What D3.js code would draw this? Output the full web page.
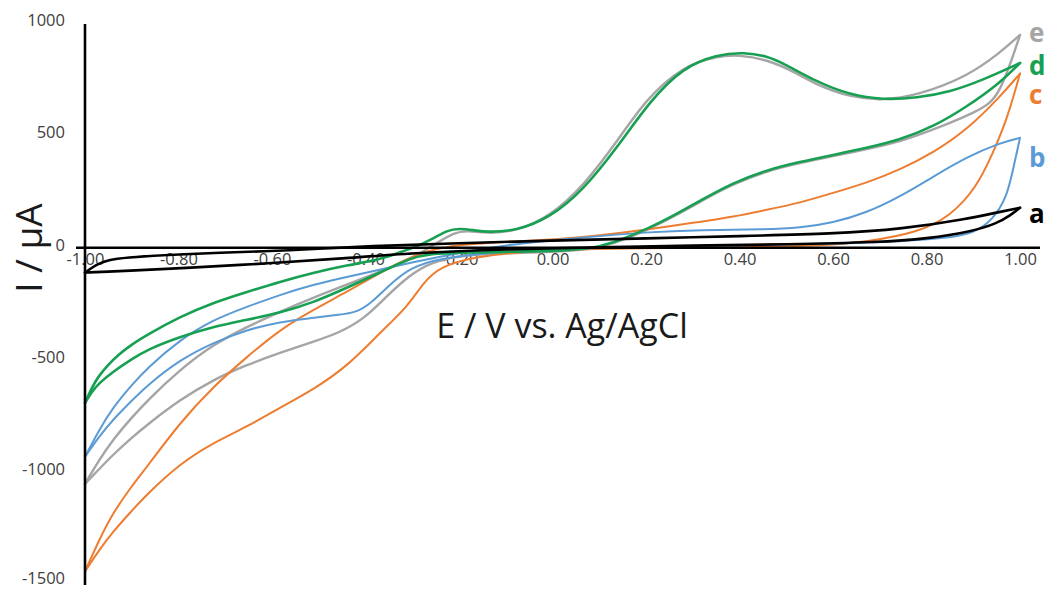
<!DOCTYPE html>
<html>
<head>
<meta charset="utf-8">
<script src="https://cdn.jsdelivr.net/npm/d3@7"></script>
<style>
  html, body { margin: 0; padding: 0; background: #ffffff; }
  svg { display: block; }
  text { font-family: "Open Sans", "Liberation Sans", sans-serif; }
</style>
</head>
<body>
<svg id="chart" width="1050" height="590"></svg>
<script>
// Cyclic voltammograms a–e: each scan is a closed loop made of two branches,
// given as [E (V vs. Ag/AgCl), I (µA)] pairs.

const xTicks = [-1.0, -0.8, -0.6, -0.4, -0.2, 0.0, 0.2, 0.4, 0.6, 0.8, 1.0];
const yTicks = [1000, 500, 0, -500, -1000, -1500];
const curveNames = ["a", "b", "c", "d", "e"];

const aUpper = [[-1.00,-110],[-0.985,-88],[-0.97,-70],[-0.95,-55],[-0.92,-44],[-0.80,-28],[-0.60,-15],[-0.50,-4],[-0.40,7],[-0.20,21],[0.00,32],[0.20,42],[0.40,52],[0.60,62],[0.75,84],[0.886,128],[0.957,160],[1.00,178]];
const aLower = [[-1.00,-110],[-0.95,-106],[-0.90,-101],[-0.80,-92],[-0.60,-68],[-0.45,-48],[-0.30,-23],[-0.10,-6],[0.10,3],[0.30,10],[0.50,15],[0.70,25],[0.80,40],[0.90,74],[0.95,108],[0.98,145],[1.00,178]];

const bUpper = [[-1.00,-930],[-0.97,-810],[-0.94,-710],[-0.90,-610],[-0.867,-535],[-0.797,-409],[-0.726,-320],[-0.653,-262],[-0.583,-209],[-0.512,-164],[-0.44,-129],[-0.369,-98],[-0.305,-67],[-0.20,-22],[-0.08,18],[0.06,45],[0.20,70],[0.316,80],[0.459,81],[0.529,89],[0.60,111],[0.672,156],[0.743,227],[0.814,316],[0.886,404],[0.957,467],[1.00,489]];
const bLower = [[-1.00,-930],[-0.97,-840],[-0.94,-764],[-0.90,-680],[-0.867,-612],[-0.797,-498],[-0.726,-422],[-0.653,-364],[-0.583,-329],[-0.512,-311],[-0.455,-298],[-0.42,-287],[-0.39,-250],[-0.348,-164],[-0.305,-89],[-0.24,-44],[-0.11,-18],[0.02,-4],[0.30,8],[0.60,18],[0.75,28],[0.85,45],[0.90,64],[0.942,124],[0.972,227],[0.985,347],[1.00,489]];

const cUpper = [[-1.00,-1440],[-0.97,-1300],[-0.94,-1178],[-0.90,-1060],[-0.867,-973],[-0.797,-778],[-0.726,-618],[-0.653,-484],[-0.583,-364],[-0.512,-276],[-0.44,-196],[-0.369,-111],[-0.305,-40],[-0.226,13],[-0.084,27],[0.059,44],[0.202,80],[0.316,116],[0.386,138],[0.459,169],[0.529,200],[0.60,244],[0.672,289],[0.743,347],[0.814,422],[0.886,524],[0.957,671],[1.00,775]];
const cLower = [[-1.00,-1440],[-0.97,-1345],[-0.94,-1262],[-0.90,-1170],[-0.867,-1095],[-0.797,-960],[-0.726,-867],[-0.653,-796],[-0.583,-711],[-0.512,-631],[-0.44,-529],[-0.369,-378],[-0.31,-262],[-0.277,-156],[-0.24,-84],[-0.17,-40],[-0.03,-9],[0.20,-2],[0.40,2],[0.60,12],[0.672,27],[0.78,67],[0.85,138],[0.908,271],[0.942,422],[0.972,569],[1.00,775]];

const dUpper = [[-1.00,-690],[-0.985,-620],[-0.97,-568],[-0.95,-520],[-0.93,-478],[-0.90,-430],[-0.867,-387],[-0.797,-307],[-0.726,-244],[-0.653,-196],[-0.583,-151],[-0.512,-111],[-0.44,-78],[-0.369,-52],[-0.333,-25],[-0.29,6],[-0.256,40],[-0.225,78],[-0.20,86],[-0.17,79],[-0.14,69],[-0.076,76],[-0.005,135],[0.065,255],[0.138,445],[0.209,655],[0.279,802],[0.352,860],[0.41,870],[0.46,852],[0.493,822],[0.565,738],[0.636,680],[0.707,658],[0.78,667],[0.85,693],[0.921,747],[1.00,822]];
const dLower = [[-1.00,-690],[-0.985,-640],[-0.97,-602],[-0.94,-551],[-0.90,-495],[-0.867,-453],[-0.797,-396],[-0.726,-351],[-0.653,-320],[-0.583,-289],[-0.512,-244],[-0.44,-178],[-0.369,-111],[-0.305,-45],[-0.26,-26],[-0.20,-21],[-0.10,-18],[0.00,-15],[0.08,-5],[0.13,22],[0.20,80],[0.27,155],[0.316,210],[0.386,289],[0.459,347],[0.529,382],[0.60,413],[0.672,444],[0.743,480],[0.814,538],[0.886,627],[0.957,733],[1.00,822]];

const eUpper = [[-1.00,-1050],[-0.97,-945],[-0.94,-853],[-0.90,-755],[-0.867,-680],[-0.797,-542],[-0.726,-431],[-0.653,-351],[-0.583,-284],[-0.512,-222],[-0.44,-164],[-0.369,-107],[-0.305,-53],[-0.25,18],[-0.21,70],[-0.18,76],[-0.14,64],[-0.08,72],[-0.005,140],[0.065,272],[0.138,472],[0.20,662],[0.279,808],[0.352,853],[0.40,858],[0.46,837],[0.52,780],[0.565,725],[0.636,670],[0.707,655],[0.78,678],[0.886,760],[0.957,867],[1.00,947]];
const eLower = [[-1.00,-1050],[-0.97,-985],[-0.94,-920],[-0.90,-845],[-0.867,-787],[-0.797,-676],[-0.726,-587],[-0.653,-520],[-0.583,-467],[-0.512,-418],[-0.455,-378],[-0.40,-311],[-0.358,-222],[-0.305,-120],[-0.26,-65],[-0.20,-34],[-0.10,-24],[0.00,-19],[0.08,-8],[0.13,18],[0.20,76],[0.27,150],[0.316,205],[0.386,284],[0.459,342],[0.529,377],[0.60,408],[0.672,438],[0.743,472],[0.80,515],[0.85,555],[0.90,600],[0.936,640],[0.957,700],[0.979,815],[1.00,947]];

const scans = [
  { name: "e", color: "#a5a5a5", width: 2.4, branches: [eUpper, eLower], labelY: 42 },
  { name: "c", color: "#ed7d31", width: 2.0, branches: [cUpper, cLower], labelY: 104 },
  { name: "b", color: "#5b9bd5", width: 2.0, branches: [bUpper, bLower], labelY: 167 },
  { name: "d", color: "#17a052", width: 2.6, branches: [dUpper, dLower], labelY: 75 },
  { name: "a", color: "#000000", width: 2.6, branches: [aUpper, aLower], labelY: 223 }
];

const svg = d3.select("#chart");

const x = d3.scaleLinear().domain([-1, 1]).range([85, 1020]);
const y = d3.scaleLinear().domain([-1500, 1000]).range([585, 23]);

// x tick labels, sitting just under the zero line
const xAxis = d3.axisBottom(x)
  .tickValues(xTicks)
  .tickSize(0)
  .tickPadding(0)
  .tickFormat(d => d.toFixed(2));
const gx = svg.append("g")
  .attr("transform", `translate(0,${y(0) + 17})`)
  .call(xAxis);
gx.select(".domain").remove();
gx.selectAll("text")
  .attr("dy", 0)
  .attr("fill", "#404040")
  .style("font-size", "16.5px")
  .style("font-family", "'Open Sans', sans-serif");

// y tick labels, right-aligned left of the vertical axis
const yAxis = d3.axisLeft(y)
  .tickValues(yTicks)
  .tickSize(0)
  .tickPadding(0)
  .tickFormat(d => String(d));
const gy = svg.append("g")
  .attr("transform", `translate(${x(-1) - 20},-3)`)
  .call(yAxis);
gy.select(".domain").remove();
gy.selectAll("text")
  .attr("fill", "#404040")
  .style("font-size", "16.5px")
  .style("font-family", "'Open Sans', sans-serif");
// keep the lowest label inside the frame
gy.selectAll(".tick")
  .filter(d => d === yTicks[yTicks.length - 1])
  .select("text")
  .attr("y", -4);

// curves: B-spline through the sampled branch points
const line = d3.line()
  .x(d => x(d[0]))
  .y(d => y(d[1]))
  .curve(d3.curveBasis);

const gCurves = svg.append("g").attr("fill", "none");
scans.forEach(s => {
  s.branches.forEach(br => {
    gCurves.append("path")
      .datum(br)
      .attr("d", line)
      .attr("stroke", s.color)
      .attr("stroke-width", s.width)
      .attr("stroke-linejoin", "round")
      .attr("stroke-linecap", "round");
  });
});

// axis lines
svg.append("line")
  .attr("x1", x(-1)).attr("x2", x(-1))
  .attr("y1", y(1000) + 1).attr("y2", y(-1500))
  .attr("stroke", "#000").attr("stroke-width", 2.6);
svg.append("line")
  .attr("x1", x(-1) - 9).attr("x2", x(1) + 20)
  .attr("y1", y(0)).attr("y2", y(0))
  .attr("stroke", "#000").attr("stroke-width", 2.6);

// curve letters at the right end of each loop
svg.append("g")
  .selectAll("text")
  .data(scans)
  .join("text")
  .attr("x", 1029)
  .attr("y", d => d.labelY)
  .attr("fill", d => d.color)
  .style("font-size", "26px")
  .style("font-weight", "700")
  .text(d => d.name);

// axis titles
svg.append("text")
  .attr("x", 562)
  .attr("y", 338)
  .attr("text-anchor", "middle")
  .attr("fill", "#1a1a1a")
  .style("font-size", "34px")
  .text("E / V vs. Ag/AgCl");

svg.append("text")
  .attr("transform", "translate(42,248) rotate(-90)")
  .attr("text-anchor", "middle")
  .attr("fill", "#1a1a1a")
  .style("font-size", "37px")
  .text("I / µA");
</script>
</body>
</html>
